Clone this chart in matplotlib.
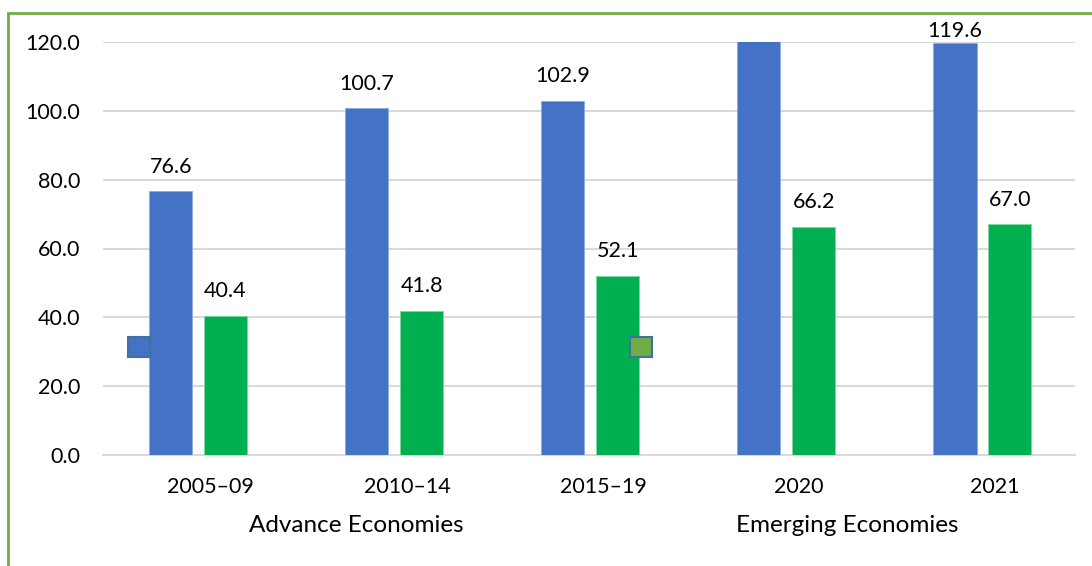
import matplotlib.pyplot as plt
from matplotlib.patches import Rectangle
import numpy as np

periods = ['2005–09', '2010–14', '2015–19', '2020', '2021']
advance = [76.6, 100.7, 102.9, 121.5, 119.6]
emerging = [40.4, 41.8, 52.1, 66.2, 67.0]
series_names = ['Advance Economies', 'Emerging Economies']
yticks = [0, 20, 40, 60, 80, 100, 120]

BLUE = '#4472C4'
GREEN = '#00B050'
GRID = '#D9D9D9'

plt.rcParams['font.family'] = ['Lato', 'DejaVu Sans']

W, H = 1092, 566
fig = plt.figure(figsize=(W / 100, H / 100), dpi=100)
ax = fig.add_axes([103 / W, 1 - 455 / H, 972 / W, 413 / H])

x = np.arange(len(periods))
bw = 0.22
off_a, off_e = -0.205, 0.075  # bars sit a little left of the tick labels in the source
ax.bar(x + off_a, advance, bw, color=BLUE, edgecolor='#8FAADC', linewidth=0.6, zorder=3)
ax.bar(x + off_e, emerging, bw, color=GREEN, edgecolor='#7FD8A0', linewidth=0.6, zorder=3)

ymax = 120
ax.set_ylim(0, ymax)
ax.set_xlim(-0.55, 4.407)

# value labels, pushed down to stay inside the plot like the original
for xs, vals in ((x + off_a, advance), (x + off_e, emerging)):
    for xi, v in zip(xs, vals):
        if v > ymax:
            continue
        ax.text(xi, min(v + 7.2, 123.3), f'{v:.1f}', ha='center', va='center',
                fontsize=15.5, color='black', zorder=4, clip_on=False)

ax.set_yticks(yticks)
ax.set_yticklabels([f'{t:.1f}' for t in yticks])
ax.set_xticks(x)
ax.set_xticklabels(periods)
ax.tick_params(length=0, labelsize=15.5, colors='black')
ax.tick_params(axis='y', pad=16.5)
ax.tick_params(axis='x', pad=16)
ax.grid(axis='y', color=GRID, linewidth=1.5, zorder=0)
for s in ('top', 'right', 'left'):
    ax.spines[s].set_visible(False)
ax.spines['bottom'].set_color(GRID)
ax.spines['bottom'].set_linewidth(1.5)

# broken-looking legend: markers and names placed apart as in the source
fig.patches.append(Rectangle((128 / W, 1 - 357 / H), 22 / W, 20 / H, transform=fig.transFigure,
                             facecolor=BLUE, edgecolor='#41719C', linewidth=1.5))
fig.patches.append(Rectangle((630 / W, 1 - 357 / H), 22 / W, 20 / H, transform=fig.transFigure,
                             facecolor='#70AD47', edgecolor='#41719C', linewidth=1.5))
fig.text(356 / W, 1 - 525 / H, series_names[0], ha='center', va='center', fontsize=17.5)
fig.text(847 / W, 1 - 525 / H, series_names[1], ha='center', va='center', fontsize=17.5)

# green frame around the chart
fig.patches.append(Rectangle((8 / W, -0.05), 1.1, 1 - 13 / H + 0.05, transform=fig.transFigure,
                             facecolor='none', edgecolor='#70AD47', linewidth=2))

fig.savefig('out.png', dpi=100)
